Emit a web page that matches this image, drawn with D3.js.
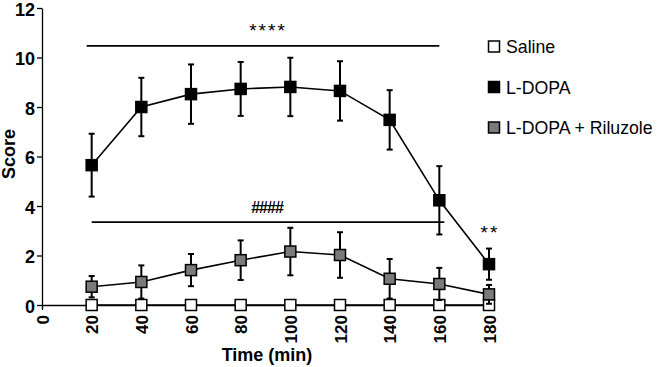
<!DOCTYPE html>
<html><head><meta charset="utf-8">
<script src="https://cdn.jsdelivr.net/npm/d3@7"></script>
<style>body{margin:0;background:#fff}svg{display:block}text{font-family:"Liberation Sans",Arial,sans-serif}</style>
</head><body>
<svg id="c" width="657" height="367"></svg>
<script>
const times = [20,40,60,80,100,120,140,160,180];
const salineMean = [0,0,0,0,0,0,0,0,0];
const salineSem  = [0,0,0,0,0,0,0,0,0];
const ldopaMean = [5.65,8.0,8.52,8.73,8.81,8.65,7.48,4.23,1.65];
const ldopaSem  = [1.27,1.18,1.2,1.09,1.18,1.2,1.2,1.38,0.63];
const rilMean = [0.74,0.93,1.41,1.81,2.16,2.02,1.06,0.85,0.43];
const rilSem  = [0.43,0.67,0.65,0.8,0.96,0.92,0.8,0.65,0.38];
const yTicks = [0,2,4,6,8,10,12];
const xTicks = [0,20,40,60,80,100,120,140,160,180];
const legendLabels = ["Saline","L-DOPA","L-DOPA + Riluzole"];
const sigBars = [{from:20,to:160,y:10.47,label:"****"},{from:20,to:160,y:3.35,label:"####"}];
const sigPoint = {t:180,y:2.9,label:"**"};

const svg = d3.select("#c");
const x = d3.scaleLinear().domain([0,180]).range([42,489]);
const y = d3.scaleLinear().domain([0,12]).range([305,8]);

// axes
const ya = svg.append("g").attr("transform","translate(42,0)")
  .call(d3.axisLeft(y).tickValues(yTicks).tickSize(5).tickPadding(2).tickSizeOuter(0));
ya.select(".domain").attr("stroke","#000").attr("stroke-width",1.3);
ya.selectAll(".tick line").attr("stroke-width",1.3);
ya.selectAll("text").attr("font-size",18).attr("font-weight","bold").attr("font-family","Liberation Sans, Arial").attr("fill","#000").attr("dy","0.4em");

const xa = svg.append("g").attr("transform","translate(0,305)")
  .call(d3.axisBottom(x).tickValues(xTicks).tickSize(5).tickSizeOuter(0));
xa.select(".domain").attr("stroke","#000").attr("stroke-width",1.3);
xa.selectAll(".tick line").attr("stroke-width",1.3);
xa.selectAll("text").attr("font-size",17).attr("font-weight","bold").attr("font-family","Liberation Sans, Arial")
  .attr("fill","#000").attr("text-anchor","end").attr("transform","rotate(-90)")
  .attr("x",-10).attr("y",0).attr("dy","0.36em");

svg.append("text").attr("transform","translate(15,154) rotate(-90)").attr("text-anchor","middle")
  .attr("font-size",18).attr("font-weight","bold").text("Score");
svg.append("text").attr("x",267).attr("y",361).attr("text-anchor","middle")
  .attr("font-size",18).attr("font-weight","bold").text("Time (min)");

// significance bars
sigBars.forEach((s,i)=>{
  svg.append("line").attr("x1",x(s.from)-5+ i*5).attr("x2",x(s.to)+ i*5).attr("y1",y(s.y)).attr("y2",y(s.y))
    .attr("stroke","#000").attr("stroke-width",1.6);
});
svg.append("text").attr("x",268).attr("y",37).attr("text-anchor","middle").attr("font-size",19)
  .attr("letter-spacing","2px").text(sigBars[0].label);
svg.append("text").attr("x",267).attr("y",213).attr("text-anchor","middle").attr("font-size",16)
  .attr("font-weight","bold").attr("letter-spacing","-1px").text(sigBars[1].label);
svg.append("text").attr("x",x(sigPoint.t)+1).attr("y",239).attr("text-anchor","middle").attr("font-size",19)
  .attr("letter-spacing","2px").text(sigPoint.label);

const series = [
  {mean:salineMean, sem:salineSem, fill:"#fff"},
  {mean:rilMean, sem:rilSem, fill:"#7a7a7a"},
  {mean:ldopaMean, sem:ldopaSem, fill:"#000"}
];
const line = d3.line().x((d,i)=>x(times[i])).y(d=>y(d));
const sz = 11;
series.forEach(s=>{
  const g = svg.append("g");
  g.append("path").attr("d",line(s.mean)).attr("fill","none").attr("stroke","#000").attr("stroke-width",1.6);
  s.mean.forEach((m,i)=>{
    if (s.sem[i] <= 0) return;
    const cx = x(times[i]);
    g.append("line").attr("x1",cx).attr("x2",cx).attr("y1",y(m+s.sem[i])).attr("y2",y(Math.max(0,m-s.sem[i]))).attr("stroke","#000").attr("stroke-width",2);
    [m+s.sem[i], Math.max(0,m-s.sem[i])].forEach(v=>{
      g.append("line").attr("x1",cx-3).attr("x2",cx+3).attr("y1",y(v)).attr("y2",y(v)).attr("stroke","#000").attr("stroke-width",2);
    });
  });
  g.selectAll("rect").data(s.mean).join("rect")
    .attr("x",(d,i)=>x(times[i])-sz/2).attr("y",d=>y(d)-sz/2).attr("width",sz).attr("height",sz)
    .attr("fill",s.fill).attr("stroke","#000").attr("stroke-width",1.5);
});

// legend
const fills = ["#fff","#000","#7a7a7a"];
legendLabels.forEach((l,i)=>{
  const yy = 46.5 + i*40.5;
  svg.append("rect").attr("x",488.5).attr("y",yy-5.5).attr("width",11).attr("height",11)
    .attr("fill",fills[i]).attr("stroke","#000").attr("stroke-width",1.5);
  svg.append("text").attr("x",506).attr("y",yy+6.5).attr("font-size",17.7).text(l);
});
</script>
</body></html>
